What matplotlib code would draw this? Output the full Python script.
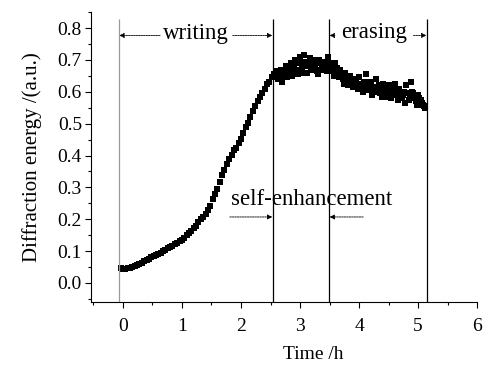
import matplotlib
matplotlib.use('Agg')
import matplotlib.pyplot as plt
from matplotlib.ticker import MultipleLocator

# 衍射能量随时间变化
time_h = [
    -0.04, 0.00, 0.04, 0.08, 0.12, 0.16, 0.20, 0.24, 0.28, 0.32,
    0.36, 0.40, 0.44, 0.48, 0.52, 0.56, 0.60, 0.64, 0.68, 0.72,
    0.76, 0.80, 0.84, 0.88, 0.92, 0.96, 1.00, 1.04, 1.08, 1.12,
    1.16, 1.20, 1.24, 1.28, 1.32, 1.36, 1.40, 1.44, 1.48, 1.52,
    1.56, 1.60, 1.64, 1.68, 1.72, 1.76, 1.80, 1.84, 1.88, 1.92,
    1.96, 2.00, 2.04, 2.08, 2.12, 2.16, 2.20, 2.24, 2.28, 2.32,
    2.36, 2.40, 2.44, 2.48, 2.52, 2.56, 2.60, 2.64, 2.68, 2.72,
    2.76, 2.80, 2.84, 2.88, 2.92, 2.96, 3.00, 3.04, 3.08, 3.12,
    3.16, 3.20, 3.24, 3.28, 3.32, 3.36, 3.40, 3.44, 3.48, 3.52,
    3.56, 3.60, 3.64, 3.68, 3.72, 3.76, 3.80, 3.84, 3.88, 3.92,
    3.96, 4.00, 4.04, 4.08, 4.12, 4.16, 4.20, 4.24, 4.28, 4.32,
    4.36, 4.40, 4.44, 4.48, 4.52, 4.56, 4.60, 4.64, 4.68, 4.72,
    4.76, 4.80, 4.84, 4.88, 4.92, 4.96, 5.00, 5.04, 5.08, 5.12,
]
energy = [
    0.046, 0.045, 0.045, 0.046, 0.047, 0.050, 0.053, 0.057, 0.060, 0.064,
    0.068, 0.072, 0.076, 0.080, 0.084, 0.088, 0.091, 0.095, 0.099, 0.103,
    0.108, 0.112, 0.117, 0.121, 0.126, 0.131, 0.136, 0.142, 0.149, 0.156,
    0.163, 0.171, 0.180, 0.190, 0.200, 0.208, 0.216, 0.228, 0.243, 0.262,
    0.278, 0.295, 0.318, 0.340, 0.355, 0.372, 0.388, 0.403, 0.418, 0.425,
    0.440, 0.452, 0.472, 0.490, 0.502, 0.520, 0.540, 0.555, 0.570, 0.585,
    0.595, 0.610, 0.625, 0.632, 0.645, 0.655, 0.665, 0.650, 0.670, 0.645,
    0.680, 0.660, 0.690, 0.665, 0.700, 0.655, 0.710, 0.675, 0.695, 0.660,
    0.705, 0.680, 0.690, 0.665, 0.700, 0.670, 0.685, 0.675, 0.710, 0.680,
    0.665, 0.690, 0.655, 0.670, 0.640, 0.660, 0.630, 0.650, 0.625, 0.640,
    0.620, 0.645, 0.615, 0.630, 0.655, 0.610, 0.625, 0.600, 0.640, 0.610,
    0.595, 0.625, 0.605, 0.585, 0.615, 0.600, 0.625, 0.590, 0.610, 0.580,
    0.600, 0.620, 0.575, 0.630, 0.595, 0.570, 0.590, 0.575, 0.560, 0.550,
]
# 平台段的中间采样点
time_h_mid = [
    2.62, 2.66, 2.70, 2.74, 2.78, 2.82, 2.86, 2.90, 2.94, 2.98,
    3.02, 3.06, 3.10, 3.14, 3.18, 3.22, 3.26, 3.30, 3.34, 3.38,
    3.42, 3.46, 3.50, 3.54, 3.58, 3.62, 3.66, 3.70, 3.74, 3.78,
    3.82, 3.86, 3.90, 3.94, 3.98, 4.02, 4.06, 4.10, 4.14, 4.18,
    4.22, 4.26, 4.30, 4.34, 4.38, 4.42, 4.46, 4.50, 4.54, 4.58,
    4.62, 4.66, 4.70, 4.74, 4.78, 4.82, 4.86, 4.90, 4.94, 4.98,
    5.02, 5.06, 5.10,
]
energy_mid = [
    0.640, 0.660, 0.630, 0.665, 0.645, 0.675, 0.650, 0.685, 0.670, 0.690,
    0.660, 0.715, 0.680, 0.690, 0.670, 0.700, 0.680, 0.655, 0.690, 0.675,
    0.695, 0.665, 0.690, 0.670, 0.650, 0.675, 0.645, 0.655, 0.625, 0.645,
    0.620, 0.640, 0.615, 0.630, 0.610, 0.625, 0.600, 0.620, 0.605, 0.630,
    0.590, 0.615, 0.600, 0.620, 0.585, 0.610, 0.595, 0.620, 0.580, 0.605,
    0.595, 0.575, 0.600, 0.590, 0.565, 0.595, 0.580, 0.600, 0.585, 0.560,
    0.580, 0.565, 0.555,
]

# 分段竖线位置
phase_lines = [-0.07, 2.54, 3.49, 5.15]
phase_colors = ['#999999', 'black', 'black', 'black']

plt.rcParams['font.family'] = ['Liberation Serif', 'DejaVu Serif']

fig = plt.figure(figsize=(4.84, 3.65), dpi=100)
ax = fig.add_axes([0.188, 0.1726, 0.798, 0.794])

ax.plot(time_h, energy, 's', color='black', ms=4.0, mew=0)
ax.plot(time_h_mid, energy_mid, 's', color='black', ms=4.0, mew=0)

for xv, c in zip(phase_lines, phase_colors):
    ax.vlines(xv, -0.06, 0.83, color=c, lw=0.9)

arrow = dict(arrowstyle='-|>', linestyle=(0, (2, 1)), lw=0.6, color='black',
             mutation_scale=7, shrinkA=0, shrinkB=0)
fs = 14
fs_note = 16.5
ax.text(1.24, 0.782, 'writing', ha='center', va='center', fontsize=fs_note)
ax.annotate('', xy=(-0.06, 0.777), xytext=(0.63, 0.777), arrowprops=arrow)
ax.annotate('', xy=(2.53, 0.777), xytext=(1.86, 0.777), arrowprops=arrow)

ax.text(4.26, 0.786, 'erasing', ha='center', va='center', fontsize=fs_note)
ax.annotate('', xy=(3.50, 0.777), xytext=(3.59, 0.777), arrowprops=arrow)
ax.annotate('', xy=(5.14, 0.777), xytext=(4.92, 0.777), arrowprops=arrow)

ax.text(3.2, 0.262, 'self-enhancement', ha='center', va='center', fontsize=fs_note)
ax.annotate('', xy=(2.53, 0.207), xytext=(1.81, 0.207), arrowprops=arrow)
ax.annotate('', xy=(3.50, 0.207), xytext=(4.07, 0.207), arrowprops=arrow)

ax.set_xlim(-0.54, 6.0)
ax.set_ylim(-0.06, 0.85)
ax.xaxis.set_major_locator(MultipleLocator(1))
ax.xaxis.set_minor_locator(MultipleLocator(0.5))
ax.yaxis.set_minor_locator(MultipleLocator(0.05))
ax.set_yticks([0.0, 0.1, 0.2, 0.3, 0.4, 0.5, 0.6, 0.7, 0.8])
ax.set_yticklabels(['0.0', '0.1', '0.2', '0.3', '0.4', '0.5', '0.6', '0.7', '0.8'])
ax.tick_params(which='major', direction='out', length=4.5, width=0.8,
               labelsize=fs)
ax.tick_params(axis='x', which='major', pad=7)
ax.tick_params(axis='y', which='major', pad=2)
ax.tick_params(which='minor', direction='out', length=2.5, width=0.8)
ax.spines['top'].set_visible(False)
ax.spines['right'].set_visible(False)
ax.spines['left'].set_linewidth(0.8)
ax.spines['bottom'].set_linewidth(0.8)

ax.set_xlabel('Time /h', fontsize=fs, x=0.575, labelpad=8)
ax.set_ylabel('Diffraction energy /(a.u.)', fontsize=15, labelpad=11)

fig.savefig('out.png', dpi=100, facecolor='white')
